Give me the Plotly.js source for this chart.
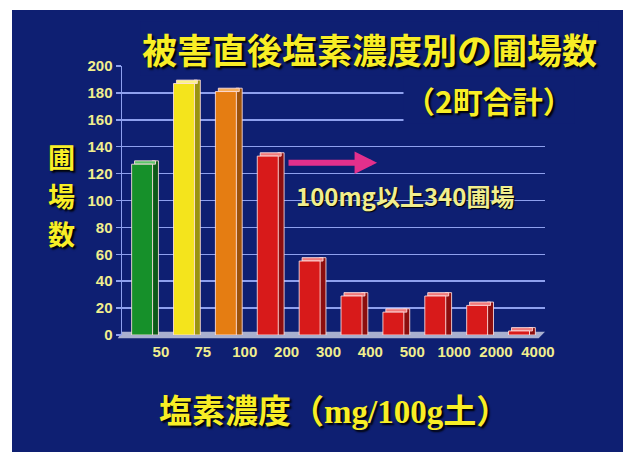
<!DOCTYPE html>
<html>
<head>
<meta charset="utf-8">
<script src="https://cdn.plot.ly/plotly-3.0.1.min.js"></script>
<style>
  html, body { margin: 0; padding: 0; background: #ffffff; }
  #chart { position: absolute; left: 12px; top: 10px; width: 611px; height: 442px; }
</style>
</head>
<body>
<div id="chart"></div>
<script>
// Chloride concentration classes (mg/100g soil) and number of fields in each
const classes = ['<50', '50-75', '75-100', '100-200', '200-300', '300-400', '400-500', '500-1000', '1000-2000', '2000-4000'];
const boundaryLabels = ['50', '75', '100', '200', '300', '400', '500', '1000', '2000', '4000'];
const fieldCounts = [127, 187, 181, 133, 55, 29, 17, 29, 22, 3];

// Face colours for each bar: front, side, top
const frontColors = ['#16902a', '#f4e41c', '#e57d12', '#d81a1a', '#d81a1a', '#d81a1a', '#d81a1a', '#d81a1a', '#d81a1a', '#d81a1a'];
const sideColors  = ['#0c5a18', '#9a9410', '#9c520a', '#8c0e0e', '#8c0e0e', '#8c0e0e', '#8c0e0e', '#8c0e0e', '#8c0e0e', '#8c0e0e'];
const topColors   = ['#5cc46a', '#fbf48a', '#f6b060', '#f07a7a', '#f07a7a', '#f07a7a', '#f07a7a', '#f07a7a', '#f07a7a', '#f07a7a'];

const BG = '#0e1f72';
const GRID = '#8ea0ee';
const LABEL = '#f1ee8e';
const TITLE = '#f8ee26';
const depth = 2.5; // apparent depth of the bars, in y units

const idx = classes.map((_, i) => i);
const edge = { color: 'rgba(255,225,225,0.85)', width: 1 };

const sideFaces = {
  type: 'bar', x: idx, y: fieldCounts.map(v => v + depth), base: 0,
  offset: 0.24, width: 0.15,
  marker: { color: sideColors, line: edge },
  hoverinfo: 'skip', showlegend: false
};
const topFaces = {
  type: 'bar', x: idx, y: fieldCounts.map(() => depth), base: fieldCounts,
  offset: -0.18, width: 0.5,
  marker: { color: topColors, line: edge },
  hoverinfo: 'skip', showlegend: false
};
const frontFaces = {
  type: 'bar', x: idx, y: fieldCounts, customdata: classes,
  offset: -0.25, width: 0.5,
  marker: { color: frontColors, line: edge },
  hovertemplate: '%{customdata}: %{y}<extra></extra>',
  showlegend: false
};

const cjk = '"Noto Sans CJK JP", "Liberation Sans", sans-serif';
const shadow = '2px 2px 2px #000000';
const yTitleFont = { family: cjk, size: 27, color: TITLE, weight: 'bold', shadow: shadow };

const layout = {
  width: 611, height: 442,
  margin: { l: 110, r: 78, t: 56, b: 117, pad: 0 },
  paper_bgcolor: BG, plot_bgcolor: BG,
  barmode: 'overlay',
  showlegend: false,
  xaxis: {
    range: [-0.48, 9.62],
    tickmode: 'array',
    tickvals: idx.map(i => i + 0.45),
    ticktext: boundaryLabels,
    showgrid: false, zeroline: false, showline: false,
    ticks: '', ticklen: 0, ticklabelstandoff: 6,
    tickfont: { family: '"Liberation Sans", Arial, sans-serif', size: 15, color: LABEL, weight: 'bold' },
    fixedrange: true
  },
  yaxis: {
    range: [0, 200],
    tickmode: 'linear', tick0: 0, dtick: 20,
    showgrid: true, gridcolor: GRID, gridwidth: 1.5,
    zeroline: false,
    showline: true, linecolor: GRID, linewidth: 1.5,
    ticks: 'outside', ticklen: 5, tickcolor: GRID, tickwidth: 1.5,
    tickfont: { family: '"Liberation Sans", Arial, sans-serif', size: 15, color: LABEL, weight: 'bold' },
    fixedrange: true
  },
  shapes: [
    // floor of the chart
    {
      type: 'path', xref: 'paper', yref: 'paper', layer: 'below',
      path: 'M 0 0.012 L 1 0.012 L 0.985 -0.012 L -0.01 -0.012 Z',
      fillcolor: '#a9b0cf', line: { width: 0 }
    }
  ],
  annotations: [
    {
      xref: 'paper', yref: 'paper', x: 0.586, y: 1.064, xanchor: 'center', yanchor: 'middle',
      text: '被害直後塩素濃度別の圃場数', showarrow: false, bgcolor: BG,
      font: { family: cjk, size: 35, color: TITLE, weight: 'bold', shadow: shadow }
    },
    {
      xref: 'paper', yref: 'paper', x: 0.868, y: 0.874, xanchor: 'center', yanchor: 'middle',
      text: '（2町合計）', showarrow: false, bgcolor: BG,
      font: { family: cjk, size: 30, color: TITLE, weight: 'bold', shadow: shadow }
    },
    // vertical axis title, one character per line
    {
      xref: 'paper', yref: 'paper', x: -0.142, y: 0.663, xanchor: 'center', yanchor: 'middle',
      text: '圃', showarrow: false, font: yTitleFont
    },
    {
      xref: 'paper', yref: 'paper', x: -0.142, y: 0.52, xanchor: 'center', yanchor: 'middle',
      text: '場', showarrow: false, font: yTitleFont
    },
    {
      xref: 'paper', yref: 'paper', x: -0.142, y: 0.377, xanchor: 'center', yanchor: 'middle',
      text: '数', showarrow: false, font: yTitleFont
    },
    {
      xref: 'paper', yref: 'paper', x: 0.5, y: -0.285, xanchor: 'center', yanchor: 'middle',
      text: '塩素濃度（mg/100g土）', showarrow: false,
      font: { family: '"Liberation Serif", "Noto Sans CJK JP", serif', size: 33, color: TITLE, weight: 'bold', shadow: shadow }
    },
    {
      xref: 'x', yref: 'y', x: 6.28, y: 104, xanchor: 'center', yanchor: 'middle',
      text: '100mg以上340圃場', showarrow: false,
      font: { family: cjk, size: 24, color: LABEL, weight: 'bold', shadow: '1px 1px 1px #000000' }
    },
    {
      xref: 'x', yref: 'y', axref: 'x', ayref: 'y',
      x: 5.61, y: 128, ax: 3.46, ay: 128,
      text: '', showarrow: true,
      arrowhead: 2, arrowsize: 0.75, arrowwidth: 6, arrowcolor: '#e2308c'
    }
  ]
};

Plotly.newPlot('chart', [sideFaces, topFaces, frontFaces], layout, { displayModeBar: false, staticPlot: true });
</script>
</body>
</html>
